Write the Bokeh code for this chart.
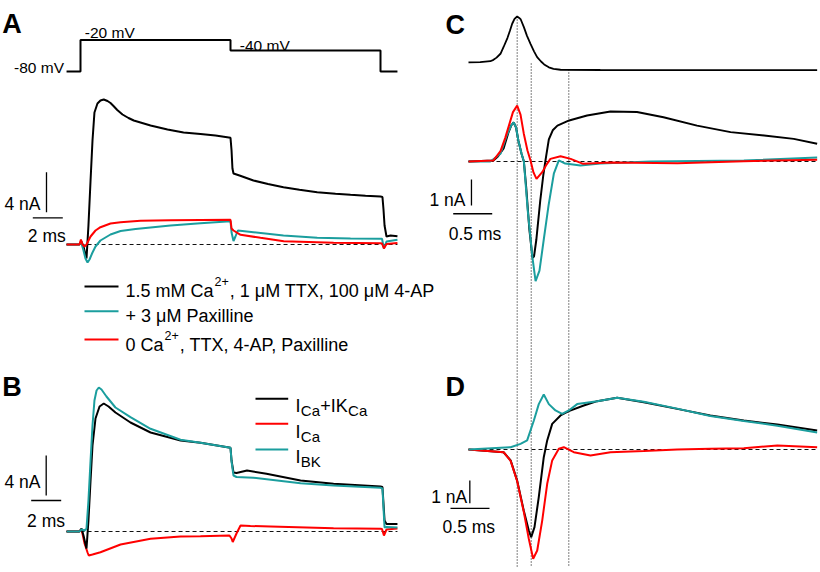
from bokeh.plotting import figure
from bokeh.models import Range1d
from bokeh.embed import file_html
from bokeh.resources import INLINE
from bokeh.core.properties import value

# ---------------------------------------------------------------- data
# Panel A - voltage protocol (ms, mV)
a_step_t = [-0.93, 0, 0, 10, 10, 20, 20, 21.13]
a_step_v = [-80, -80, -20, -20, -40, -40, -80, -80]

# Panel A - currents (ms, nA)
a_blk_t = [-0.93, -0.07, 0.07, 0.2, 0.4, 0.53, 0.67, 0.8, 0.93, 1.13, 1.33, 1.55, 1.8, 2.0, 2.2,
           2.45, 2.8, 3.2, 3.55, 4.67, 5.8, 6.87, 8.0, 9.0, 10.0, 10.07, 10.13, 10.2, 10.6, 11.53,
           12.5, 13.53, 14.6, 15.78, 17.0, 18.0, 19.0, 20.0, 20.13, 20.2, 20.27, 20.4, 20.67,
           21.13]
a_blk_i = [0, 0, 0.3, -0.2, -1.4, 1.9, 6.4, 10.4, 13.2, 14.1, 14.4, 14.5, 14.35, 14.15, 13.85,
           13.45, 13.0, 12.65, 12.4, 11.9, 11.5, 11.2, 11.05, 10.9, 10.67, 9.4, 7.6, 7.1, 6.9, 6.4,
           6.05, 5.73, 5.47, 5.23, 5.08, 4.97, 4.88, 4.8, 4.75, 3.5, 1.9, 0.8, 0.9,
           0.82]
a_red_t = [-0.93, -0.07, 0.03, 0.13, 0.27, 0.4, 0.67, 1.0, 1.33, 2.0, 2.67, 4.0, 6.0, 8.0, 10.0,
           10.07, 10.2, 10.67, 12.0, 13.55, 16.87, 20.0, 20.1, 20.23, 20.4, 21.13]
a_red_i = [0, 0, 0.5, 0, -0.2, 0, 0.8, 1.4, 1.73, 2.1, 2.23, 2.38, 2.42, 2.45, 2.47,
           1.6, 1.4, 0.97, 0.67, 0.33, 0.17, 0.13, 0.1, -0.4, 0.05, 0.15]
a_cyn_t = [-0.93, -0.07, 0.03, 0.2, 0.33, 0.47, 0.6, 0.8, 1.0, 1.33, 2.0, 2.67, 3.67, 4.67, 6.0,
           8.0, 10.0, 10.07, 10.2, 10.33, 10.49, 11.53, 13.53, 15.78, 18.0, 20.0, 20.1, 20.23,
           20.4, 21.13]
a_cyn_i = [0, 0, 0.3, -0.6, -1.4, -1.8, -1.5, -0.8, -0.2, 0.4, 1.0, 1.35, 1.55, 1.7, 1.9,
           2.13, 2.33, 1.2, 0.35, 0.8, 1.4, 1.23, 0.9, 0.67, 0.6, 0.57, 0.57, -0.4, 0.3, 0.47]

# Panel B - currents (ms, nA)
b_blk_t = [-0.93, -0.07, 0.07, 0.2, 0.4, 0.53, 0.67, 0.8, 1.0, 1.27, 1.55, 1.87, 2.33, 3.33,
           4.67, 6.67, 8.0, 10.0, 10.07, 10.2, 10.4, 11.1, 12.4, 14.67, 16.87, 20.0, 20.13,
           20.27, 20.4, 21.13]
b_blk_i = [0, 0, 0.3, -0.4, -1.7, 1.1, 5.1, 8.6, 11.3, 12.5, 12.8, 12.5, 11.9, 10.9,
           9.9, 9.1, 8.87, 8.37, 7.1, 5.9, 5.85, 6.1, 5.77, 5.1, 4.77, 4.5, 4.45,
           1.1, 0.75, 0.75]
b_cyn_t = [-0.93, -0.07, 0.07, 0.27, 0.4, 0.53, 0.67, 0.8, 0.93, 1.07, 1.22, 1.4, 1.73, 2.33,
           3.33, 4.67, 6.67, 8.0, 10.0, 10.07, 10.2, 10.4, 11.53, 14.67, 16.87, 20.0, 20.13,
           20.27, 20.4, 21.13]
b_cyn_i = [0, 0, 0.2, 0.1, 0.3, 3.1, 7.1, 10.6, 13.1, 14.1, 14.4, 14.2, 13.5, 12.4,
           11.43, 10.27, 9.17, 8.87, 8.37, 7.0, 5.6, 5.45, 5.37, 4.83, 4.6, 4.37, 4.3,
           0.4, 0.45, 0.4]
b_red_t = [-0.93, -0.07, 0.03, 0.13, 0.27, 0.47, 0.55, 0.8, 1.33, 2.67, 4.67, 6.67, 8.0, 9.93,
           10.07, 10.15, 10.4, 10.67, 11.33, 12.67, 16.87, 20.0, 20.1, 20.23, 20.4, 21.13]
b_red_i = [0, 0, 0.2, -0.2, -1.2, -2.1, -2.4, -2.3, -2.07, -1.3, -0.73, -0.5, -0.47, -0.4,
           -0.7, -1.05, -0.2, 0.6, 0.55, 0.5, 0.33, 0.27, 0.25, -0.4, 0.2, 0.3]

# Panel C - action potential waveform (ms, mV)
c_ap_t = [0, 0.15, 0.28, 0.32, 0.36, 0.41, 0.45, 0.50, 0.53, 0.56, 0.59, 0.624, 0.65, 0.67,
          0.71, 0.75, 0.795, 0.84, 0.88, 0.93, 0.97, 1.03, 1.09, 1.18, 1.69, 4.47]
c_ap_v = [-65, -64.4, -62.4, -59.5, -55, -47, -33, -14, 0, 15, 25, 30, 27, 23.8,
          8, -10, -26.4, -42, -54, -63, -69, -75, -78, -80, -80.5, -81]

# Panel C - currents (ms, nA)
c_blk_t = [0, 0.32, 0.38, 0.45, 0.51, 0.55, 0.58, 0.61, 0.64, 0.68, 0.71, 0.74, 0.78, 0.82,
           0.84, 0.87, 0.92, 0.96, 0.99, 1.03, 1.08, 1.14, 1.29, 1.52, 1.82, 2.16, 2.5, 2.93,
           3.36, 3.79, 4.17, 4.47]
c_blk_i = [0, 0.04, 0.2, 0.5, 1.1, 1.4, 1.5, 1.3, 0.8, 0.3, 0, -1.0, -2.6, -3.7,
           -3.65, -3.0, -1.5, -0.5, 0.1, 0.85, 1.2, 1.38, 1.58, 1.77, 1.92, 1.9, 1.7, 1.38,
           1.13, 1.0, 0.87, 0.68]
c_cyn_t = [0, 0.28, 0.41, 0.49, 0.55, 0.58, 0.61, 0.64, 0.68, 0.71, 0.76, 0.82, 0.86, 0.91,
           0.965, 1.026, 1.094, 1.158, 1.24, 1.436, 1.69, 2.33, 3.53, 4.47]
c_cyn_i = [0, 0, 0.3, 1.0, 1.4, 1.5, 1.3, 0.8, 0.3, 0, -1.9, -3.7, -4.6, -4.2,
           -3.0, -1.7, -0.47, 0.04, -0.08, -0.15, -0.08, 0, 0.04, 0.15]
c_red_t = [0, 0.32, 0.41, 0.47, 0.52, 0.57, 0.624, 0.667, 0.709, 0.756, 0.795, 0.833, 0.872,
           0.945, 1.0, 1.05, 1.18, 1.31, 1.47, 1.82, 2.68, 3.53, 4.47]
c_red_i = [0, 0.04, 0.4, 0.9, 1.4, 1.9, 2.15, 1.8, 1.07, 0.42, 0.04, -0.42, -0.67,
           -0.41, -0.12, 0.1, 0.2, 0.1, -0.09, -0.04, -0.07, 0.01, 0.07]

# Panel D - currents (ms, nA)
d_blk_t = [0, 0.45, 0.54, 0.624, 0.709, 0.773, 0.804, 0.846, 0.901, 0.965, 1.009, 1.073, 1.18,
           1.286, 1.478, 1.65, 1.906, 2.247, 2.676, 3.1, 3.53, 3.96, 4.47]
d_blk_i = [0, -0.12, -0.48, -1.37, -2.7, -3.57, -3.86, -3.42, -2.1, -0.34, 0.4, 1.13, 1.5,
           1.69, 1.94, 2.13, 2.28, 2.08, 1.79, 1.5, 1.28, 1.1, 0.84]
d_red_t = [0, 0.45, 0.54, 0.624, 0.709, 0.773, 0.829, 0.881, 0.945, 1.009, 1.073, 1.158, 1.222,
           1.35, 1.564, 1.82, 2.247, 2.676, 3.1, 3.53, 3.96, 4.47]
d_red_i = [0, -0.12, -0.5, -1.4, -2.75, -3.93, -4.81, -4.45, -3.13, -1.51, -0.48, 0.03, 0.1,
           -0.12, -0.26, -0.12, -0.07, 0, 0.03, 0.06, 0.18, 0.1]
d_cyn_t = [0, 0.54, 0.667, 0.752, 0.838, 0.901, 0.965, 1.03, 1.115, 1.201, 1.286, 1.393, 1.65,
           1.906, 2.247, 2.676, 3.1, 3.53, 3.96, 4.47]
d_cyn_i = [0, 0.1, 0.25, 0.4, 1.28, 2.0, 2.42, 2.0, 1.72, 1.57, 1.72, 2.0, 2.13,
           2.28, 2.1, 1.8, 1.48, 1.26, 1.05, 0.75]

# event markers (ms, panel C/D time base)
marker_t = [0.624, 0.804, 1.286]

# scale bars: (position, length) in each panel's own units
scale_a = dict(t=-2.267, i0=3.23, di=4, it=2.67, t0=-3.18, dt=2)
scale_b = dict(t=-2.287, i0=3.6, di=4, it=3.1, t0=-3.287, dt=2)
scale_c = dict(t=0.038, i0=-1.69, di=1, it=-2.01, t0=-0.196, dt=0.5)
scale_d = dict(t=0.017, i0=-2.37, di=1, it=-2.59, t0=-0.231, dt=0.5)

legend_a = ["1.5 mM Ca", "2+", ", 1 \u03bcM TTX, 100 \u03bcM 4-AP",
            "+ 3 \u03bcM Paxilline", "0 Ca", "2+", ", TTX, 4-AP, Paxilline"]

# ---------------------------------------------------------------- layout
BLACK, RED, TEAL = "#000000", "#ff0000", "#1b9e9e"
W, H = 820, 572
REF_W, REF_H = 820, 572
SX = W / REF_W

p = figure(width=W, height=H, x_range=Range1d(0, REF_W), y_range=Range1d(REF_H, 0),
           output_backend="svg", toolbar_location=None, x_axis_type=None, y_axis_type=None,
           min_border=0, outline_line_color=None, background_fill_color="white",
           border_fill_color="white")
p.title = None

# panel coordinate systems: (x origin px, px per ms, y origin px, px per unit)
PANELS = {
    "av": (80, 15, 29, 0.525),
    "a": (80, 15, 244, 10),
    "b": (80, 15, 531, 10),
    "cv": (468, 78, 30.5, 0.4842),
    "c": (468, 78, 161, 26),
    "d": (468, 78, 449, 22.7),
}
for name, (xo, kx, yo, ky) in PANELS.items():
    p.extra_x_ranges[name] = Range1d((0 - xo) / kx, (REF_W - xo) / kx)
    p.extra_y_ranges[name] = Range1d((yo - REF_H) / ky, yo / ky)


def trace(name, t, y, color, width=2.0):
    p.line(t, y, line_color=color, line_width=width, x_range_name=name, y_range_name=name)


def baseline(name, t0, t1):
    p.line([t0, t1], [0, 0], line_color="#111111", line_width=1, line_dash="4 3",
           x_range_name=name, y_range_name=name)


def scalebar(name, s):
    p.line([s["t"], s["t"]], [s["i0"], s["i0"] + s["di"]], line_color="black",
           line_width=1.3, x_range_name=name, y_range_name=name)
    p.line([s["t0"], s["t0"] + s["dt"]], [s["it"], s["it"]], line_color="black",
           line_width=1.3, x_range_name=name, y_range_name=name)


FONT = value("Liberation Sans")
ARIAL = {' ': 278, ',': 278, '.': 278, '-': 333, '+': 584, 'A': 667, 'B': 667, 'C': 722,
         'I': 278, 'K': 667, 'M': 833, 'P': 667, 'T': 611, 'X': 667, 'V': 667, 'a': 556,
         'e': 556, 'i': 222, 'l': 222, 'm': 833, 'n': 556, 's': 500, 'x': 500, '\u03bc': 576}


def tw(s, fs):
    return sum(ARIAL.get(c, 556) for c in s) * fs / 1000.0 / SX


def txt(x, y, s, fs, align="left", bold=False):
    p.text(x=[x], y=[y], text=[s], text_font=FONT, text_font_size=value(f"{fs}px"),
           text_font_style="bold" if bold else "normal", text_align=align,
           text_baseline="alphabetic", text_color="black")


# ---- panel A
trace("av", a_step_t, a_step_v, BLACK, 2.0)
baseline("a", a_step_t[0], a_step_t[-1])
trace("a", a_blk_t, a_blk_i, BLACK)
trace("a", a_cyn_t, a_cyn_i, TEAL)
trace("a", a_red_t, a_red_i, RED)
scalebar("a", scale_a)

# ---- panel B
baseline("b", a_step_t[0], a_step_t[-1])
trace("b", b_red_t, b_red_i, RED)
trace("b", b_blk_t, b_blk_i, BLACK)
trace("b", b_cyn_t, b_cyn_i, TEAL)
scalebar("b", scale_b)

# ---- panel C / D
p.segment(x0=marker_t, y0=[16, 63, 69], x1=marker_t, y1=[567, 567, 567],
          line_color="#000000", line_width=1, line_dash="1 2", x_range_name="c")
trace("cv", c_ap_t, c_ap_v, BLACK, 1.8)
baseline("c", 0, c_ap_t[-1])
trace("c", c_blk_t, c_blk_i, BLACK)
trace("c", c_cyn_t, c_cyn_i, TEAL)
trace("c", c_red_t, c_red_i, RED)
scalebar("c", scale_c)

baseline("d", 0, c_ap_t[-1])
trace("d", d_blk_t, d_blk_i, BLACK)
trace("d", d_red_t, d_red_i, RED)
trace("d", d_cyn_t, d_cyn_i, TEAL)
scalebar("d", scale_d)

# ---- texts
for letter, x, y in [("A", 1.7, 23.3), ("B", 1.7, 386.7), ("C", 445, 24), ("D", 445, 386)]:
    txt(x, y, letter, 27, bold=True)

txt(63.5, 66.7, "-80 mV", 15.5, align="right")
txt(84.3, 31.7, "-20 mV", 15.5)
txt(239.3, 45, "-40 mV", 15.5)

txt(40, 203.3, "4 nA", 17.5, align="right")
txt(46.3, 235, "2 ms", 17.5, align="center")
txt(40, 481.7, "4 nA", 17.5, align="right")
txt(45.5, 520, "2 ms", 17.5, align="center")
txt(465, 199.3, "1 nA", 17.5, align="right")
txt(474.5, 233.3, "0.5 ms", 17.5, align="center")
txt(466.7, 496.7, "1 nA", 17.5, align="right")
txt(468.3, 526.7, "0.5 ms", 17.5, align="center")

# legend A
p.segment(x0=[84, 84, 84], y0=[286, 310.7, 339], x1=[118, 118, 118], y1=[286, 310.7, 339],
          line_color=[BLACK, TEAL, RED], line_width=2)
FS_L, FS_S = 18, 12.5
x0 = 125
txt(x0, 290.7, legend_a[0], FS_L)
x1 = x0 + tw(legend_a[0], FS_L) + 1
txt(x1, 280.5, legend_a[1], FS_S)
txt(x1 + tw(legend_a[1], FS_S) + 1, 290.7, legend_a[2], FS_L)
txt(x0, 315, legend_a[3], FS_L)
txt(x0, 344, legend_a[4], FS_L)
x1 = x0 + tw(legend_a[4], FS_L) + 1
txt(x1, 334.5, legend_a[5], FS_S)
txt(x1 + tw(legend_a[5], FS_S) + 1, 344, legend_a[6], FS_L)

# legend B
p.segment(x0=[255, 255, 255], y0=[398.3, 423.3, 449], x1=[287.7, 287.7, 287.7],
          y1=[398.3, 423.3, 449], line_color=[BLACK, RED, TEAL], line_width=2)
rows_b = [[("I", 0), ("Ca", 1), ("+IK", 0), ("Ca", 1)],
          [("I", 0), ("Ca", 1)],
          [("I", 0), ("BK", 1)]]
for base, parts in zip([405, 431, 456.5], rows_b):
    x = 295
    for s, sub in parts:
        fs = 15 if sub else 18
        txt(x, base + (4.5 if sub else 0), s, fs)
        x += tw(s, fs) + 0.3

open("out.html", "w").write(file_html(p, INLINE))
